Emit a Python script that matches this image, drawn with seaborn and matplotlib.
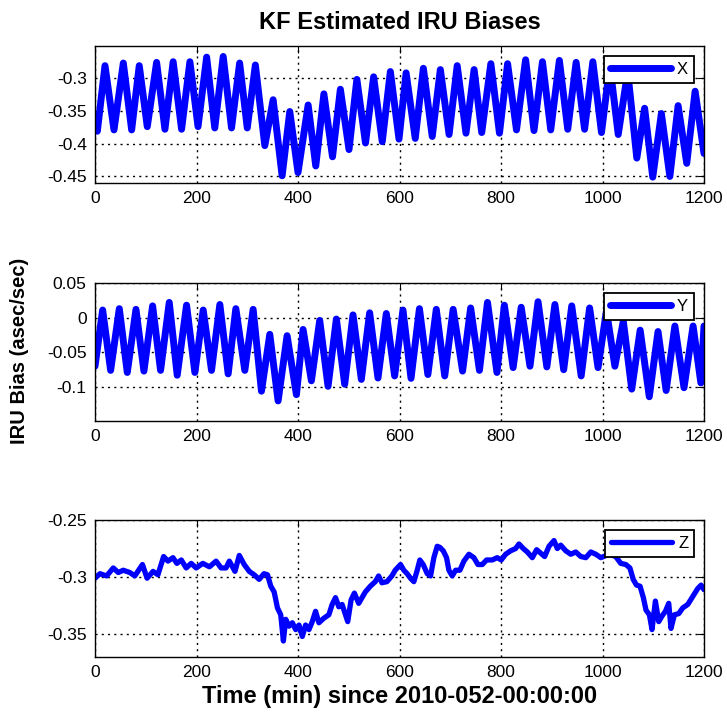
import matplotlib
matplotlib.use("Agg")
import matplotlib.pyplot as plt
import seaborn as sns

# ---- data (extremes of the oscillations, min / bias) ----
x_time = [0, 4.6, 19.7, 37.4, 55.8, 72.2, 87.2, 103, 121.4, 137.8, 154, 170.6,
          187, 203, 220, 236, 252.6, 269, 285, 300, 316, 334.6, 351, 368.7,
          383.8, 400, 420, 435, 451, 468, 483.5, 500.5, 516, 533, 549, 566,
          582, 599, 613, 631, 647, 664.5, 680.5, 697.7, 713.7, 731, 747, 762,
          780, 797, 813, 830.5, 848.5, 865, 881.7, 898, 915, 931.5, 948, 964.7,
          981, 998, 1014.5, 1031, 1049.7, 1067.6, 1083, 1099, 1116, 1132.7,
          1149, 1166, 1182.5, 1200]
x_bias = [-0.365, -0.381, -0.281, -0.379, -0.277, -0.379, -0.281, -0.374,
          -0.276, -0.378, -0.275, -0.378, -0.275, -0.374, -0.268, -0.376,
          -0.267, -0.376, -0.277, -0.376, -0.280, -0.403, -0.333, -0.449,
          -0.351, -0.444, -0.341, -0.434, -0.324, -0.420, -0.317, -0.409,
          -0.302, -0.399, -0.298, -0.397, -0.290, -0.393, -0.292, -0.392,
          -0.285, -0.389, -0.287, -0.386, -0.281, -0.384, -0.287, -0.383,
          -0.278, -0.384, -0.278, -0.379, -0.272, -0.380, -0.275, -0.379,
          -0.273, -0.378, -0.276, -0.378, -0.275, -0.383, -0.280, -0.386,
          -0.290, -0.422, -0.346, -0.451, -0.354, -0.450, -0.342, -0.430,
          -0.320, -0.415]

y_time = [0, 15.1, 30.8, 47.9, 63.6, 80.7, 96.4, 113.5, 129.2, 146.3, 162,
          180.4, 196.8, 213.2, 229.6, 246, 262.4, 277.5, 295.2, 311.6, 328,
          344.4, 360.8, 378.5, 396.9, 410, 426.4, 442.8, 459.2, 475.6, 492,
          508.4, 524.8, 541.2, 557.6, 574, 590.4, 606.8, 622.7, 639.3, 655.9,
          672.5, 689.1, 705.7, 724.3, 740.2, 757.5, 773.4, 792, 806.6, 823.9,
          839.8, 857.1, 873, 890.3, 906.2, 923.5, 939.4, 958, 974.6, 991.2,
          1007.8, 1024.4, 1041, 1057.6, 1074.2, 1092.2, 1109.4, 1125.4, 1142.6,
          1160.6, 1178.5, 1193.8, 1200]
y_bias = [-0.070, 0.011, -0.076, 0.013, -0.079, 0.012, -0.077, 0.017, -0.076,
          0.022, -0.083, 0.018, -0.079, 0.011, -0.076, 0.019, -0.081, 0.013,
          -0.076, 0.012, -0.106, -0.024, -0.120, -0.026, -0.111, -0.017,
          -0.091, -0.004, -0.099, -0.002, -0.096, 0.004, -0.089, 0.007,
          -0.087, 0.006, -0.084, 0.011, -0.0875, 0.013, -0.082, 0.012, -0.084,
          0.012, -0.077, 0.014, -0.076, 0.022, -0.079, 0.018, -0.072, 0.015,
          -0.070, 0.023, -0.071, 0.019, -0.075, 0.017, -0.084, 0.014, -0.072,
          0.010, -0.070, -0.005, -0.103, -0.018, -0.114, -0.020, -0.105,
          -0.012, -0.101, -0.012, -0.094, -0.012]

z_time = [0, 9.8, 22.9, 36, 45.8, 55.6, 68.6, 78.4, 93.5, 102.6, 114.4, 124,
          135.2, 143.8, 153.6, 161.4, 170, 179.7, 189.5, 199.3, 212.4, 225.5,
          238.6, 248.4, 258.2, 264.7, 275.8, 284.3, 294, 304, 313.7, 323.5,
          333, 339.9, 346.4, 353, 359.5, 366, 371.2, 375.8, 382.4, 388.9,
          395.4, 402, 408.5, 415, 421.6, 428.1, 434.6, 441.2, 451, 460.8,
          467.3, 473.9, 480.4, 486.9, 493.5, 498, 504.6, 511.1, 519.6, 526.1,
          532.7, 542.5, 552.3, 558.8, 565.4, 575.2, 585, 591.5, 602, 608.5,
          615, 621.7, 628.3, 634.9, 640.1, 646.7, 654.6, 661.2, 667.7, 674.3,
          679.6, 686.2, 692.7, 697.3, 703.9, 710.5, 719, 726.9, 736.8, 746.6,
          754.5, 763.1, 771.6, 782.8, 792.6, 800.5, 809.1, 818.9, 828.8,
          835.4, 843.9, 851.8, 861.7, 870.2, 878.1, 886, 894.6, 904.4, 911,
          917.6, 927.6, 937.5, 947.3, 957.2, 967.1, 977, 986.8, 996.7, 1013,
          1026, 1036, 1046, 1054, 1060.5, 1067, 1074, 1080.5, 1085.8, 1092.4,
          1097.6, 1104.2, 1110.8, 1117.4, 1124, 1130.5, 1135, 1141.7, 1150.2,
          1158.1, 1168, 1177.8, 1187.7, 1194.3, 1200]
z_bias = [-0.301, -0.297, -0.299, -0.292, -0.296, -0.294, -0.296, -0.299,
          -0.289, -0.301, -0.295, -0.298, -0.282, -0.286, -0.283, -0.288,
          -0.285, -0.292, -0.288, -0.292, -0.288, -0.291, -0.286, -0.292,
          -0.292, -0.286, -0.295, -0.281, -0.289, -0.295, -0.298, -0.302,
          -0.297, -0.298, -0.308, -0.313, -0.327, -0.333, -0.356, -0.337,
          -0.343, -0.340, -0.346, -0.342, -0.352, -0.342, -0.346, -0.339,
          -0.330, -0.340, -0.336, -0.333, -0.324, -0.318, -0.326, -0.324,
          -0.333, -0.339, -0.320, -0.314, -0.323, -0.318, -0.313, -0.308,
          -0.304, -0.299, -0.305, -0.304, -0.299, -0.294, -0.289, -0.294,
          -0.297, -0.301, -0.304, -0.294, -0.285, -0.289, -0.297, -0.299,
          -0.283, -0.273, -0.274, -0.277, -0.283, -0.294, -0.299, -0.294,
          -0.294, -0.286, -0.280, -0.283, -0.289, -0.289, -0.285, -0.285,
          -0.283, -0.285, -0.280, -0.277, -0.275, -0.271, -0.275, -0.278,
          -0.283, -0.276, -0.279, -0.282, -0.273, -0.268, -0.275, -0.272,
          -0.277, -0.280, -0.278, -0.282, -0.283, -0.278, -0.280, -0.283,
          -0.280, -0.282, -0.288, -0.289, -0.292, -0.302, -0.307, -0.308,
          -0.318, -0.329, -0.333, -0.346, -0.321, -0.339, -0.334, -0.330,
          -0.323, -0.345, -0.333, -0.332, -0.327, -0.324, -0.317, -0.310,
          -0.307, -0.311]

time_ticks = [0, 200, 400, 600, 800, 1000, 1200]
time_labels = ["0", "200", "400", "600", "800", "1000", "1200"]

x_ticks = [-0.45, -0.4, -0.35, -0.3]
x_tick_labels = ["-0.45", "-0.4", "-0.35", "-0.3"]
y_ticks = [-0.1, -0.05, 0, 0.05]
y_tick_labels = ["-0.1", "-0.05", "0", "0.05"]
z_ticks = [-0.35, -0.3, -0.25]
z_tick_labels = ["-0.35", "-0.3", "-0.25"]

# ---- style ----
sns.set_style("white")
plt.rcParams['font.family'] = ['Liberation Sans', 'DejaVu Sans']
plt.rcParams['axes.edgecolor'] = 'black'
plt.rcParams['axes.linewidth'] = 1.0
plt.rcParams['text.color'] = 'black'
plt.rcParams['axes.labelcolor'] = 'black'

fig = plt.figure(figsize=(7.27, 7.12), dpi=100)
left, width = 95 / 727, 609 / 727
ax1 = fig.add_axes([left, 1 - 183 / 712, width, 137 / 712])
ax2 = fig.add_axes([left, 1 - 421 / 712, width, 138 / 712])
ax3 = fig.add_axes([left, 1 - 657 / 712, width, 137 / 712])

panels = [
    (ax1, x_time, x_bias, 'X', 5.0, x_ticks, x_tick_labels, (-0.46, -0.251)),
    (ax2, y_time, y_bias, 'Y', 5.0, y_ticks, y_tick_labels, (-0.149, 0.05)),
    (ax3, z_time, z_bias, 'Z', 3.8, z_ticks, z_tick_labels, (-0.37, -0.25)),
]

for ax, t, v, name, lw, yt, ytl, ylim in panels:
    sns.lineplot(x=t, y=v, ax=ax, color='#0000ff', linewidth=lw, label=name,
                 estimator=None, sort=False)
    ax.set_xlim(0, 1200)
    ax.set_ylim(*ylim)
    ax.set_xticks(time_ticks)
    ax.set_xticklabels(time_labels)
    ax.set_yticks(yt)
    ax.set_yticklabels(ytl)
    ax.set_axisbelow(True)
    ax.grid(True, color='black', linewidth=1.0, linestyle=(0, (1.5, 3)))
    ax.tick_params(direction='in', length=5, width=0.8, top=True, right=True,
                   labelsize=12.5, pad=6, colors='black')
    for s in ax.spines.values():
        s.set_visible(True)
        s.set_color('black')
    leg = ax.legend(loc='upper right', fancybox=False, edgecolor='black',
                    framealpha=1, fontsize=12, handlelength=3.7,
                    borderaxespad=0.6, borderpad=0.35, handletextpad=0.35)
    leg.get_frame().set_linewidth(1.3)
    for txt in leg.get_texts():
        txt.set_color('black')

ax1.set_title('KF Estimated IRU Biases', fontsize=17, fontweight='bold', pad=12)
ax3.set_xlabel('Time (min) since 2010-052-00:00:00', fontsize=17,
               fontweight='bold', labelpad=3)
fig.text(0.027, 0.507, 'IRU Bias (asec/sec)', rotation=90, va='center',
         ha='center', fontsize=14.5, fontweight='bold')

fig.savefig('out.png', dpi=100)
